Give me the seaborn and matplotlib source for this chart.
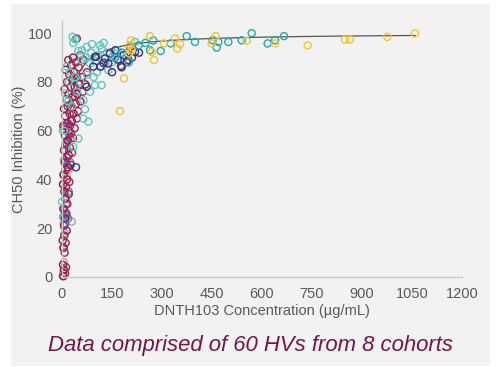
import numpy as np
import pandas as pd
import matplotlib
matplotlib.use("Agg")
import matplotlib.pyplot as plt
import seaborn as sns
from matplotlib.patches import Rectangle

# ---------------- data ----------------
gray_x = [2, 4, 6, 3, 8, 5, 10, 7, 12, 4, 15, 20, 6, 9, 24, 3, 29, 4]
gray_y = [0.5, 2, 6, 12, 18, 22, 25, 28, 33, 38, 41, 44, 48, 54, 57, 60, 22.7, 41.8]

blue_x = [10, 14, 8, 18, 12, 20, 16, 25, 14, 22, 9, 28, 4, 19, 9]
blue_y = [22, 25, 27, 24, 30, 35, 46, 47, 54, 58, 62, 64, 24.7, 63, 48]

maroon_x = [4, 6, 3, 5, 2, 14, 9, 4, 10, 7, 3, 5, 18, 8, 20, 6, 17, 9, 21, 4, 29,
            10, 35, 6, 28, 55, 32, 46, 8, 38, 70, 30, 60, 36, 11, 28, 19, 33, 44]
maroon_y = [0.3, 3, 5, 12, 15, 19, 24, 28, 32, 35, 38, 42, 45, 47, 50, 52, 56, 58, 60, 62, 64,
            66, 67, 69, 70, 72, 74, 75, 77, 78, 79, 81, 82, 84, 85, 87, 89, 90, 97.8]
crimson_x = [9, 12, 8, 11, 7, 6, 13, 16, 20, 12, 15, 22, 11, 26, 14, 30, 24, 12, 33, 27,
             38, 15, 44, 23, 48, 17, 41, 13, 20, 62, 26, 52, 15, 44, 22, 75, 50, 42, 65, 55, 39, 24]
crimson_y = [1.5, 4, 10, 14, 17, 21, 26, 30, 34, 37, 40, 39, 44, 46, 49, 51, 53, 55, 57, 59,
             61, 63, 65, 67, 68, 70, 71, 73, 75, 76, 78, 79, 80, 82, 83, 84, 86, 88, 89, 91, 74, 62]

lteal_x = [32, 34, 40, 49, 60, 74, 90, 114, 119, 125, 59, 70, 84, 100, 114, 130, 99, 119, 84,
           64, 79, 69, 64, 49, 34, 9, 14, 20, 25, 40, 55, 45, 30, 75, 95, 105, 150, 166, 174,
           159, 139, 194, 219, 0, 6, 18, 135, 108, 88, 150]
lteal_y = [98.5, 96, 97.5, 92.7, 93, 94.4, 95.5, 95, 93.7, 96, 89, 90, 87.6, 88.5, 86.3, 88,
           78.7, 78.7, 76, 72.5, 63.7, 68.8, 65, 56.8, 53.4, 75.3, 86.3, 80, 84, 82, 80, 76, 70,
           83, 82, 84, 90, 93, 89, 91.7, 84.8, 91.7, 96.4, 30.9, 60, 72, 92, 91, 92, 88]

purple_x = [42, 74, 99, 124, 129, 144, 179, 199, 204, 219, 231, 194, 177, 167, 139, 102, 116,
            94, 150, 210, 185, 160]
purple_y = [45, 78, 90.3, 87.8, 89.6, 91.7, 86, 89, 94.4, 92.3, 92, 88.2, 86.6, 89.2, 87.6,
            90.3, 86.3, 86.3, 84, 90, 91, 93]

dteal_x = [264, 274, 296, 326, 374, 399, 452, 469, 464, 499, 539, 569, 617, 639, 666,
           210, 230, 180, 250, 160, 200]
dteal_y = [93, 97, 92.7, 95.8, 98.8, 96.4, 97.1, 96.4, 94.1, 96.4, 97.1, 100, 95.8, 97.1,
           98.8, 93, 95, 92, 96, 90, 88]

yellow_x = [174, 186, 202, 204, 209, 207, 264, 269, 276, 306, 339, 346, 354, 449, 461, 554,
            639, 737, 849, 864, 976, 1059]
yellow_y = [68, 81.5, 91.7, 95, 93, 97, 98.8, 92.3, 89, 95.8, 97.8, 93.7, 95.5, 95.8, 98.8,
            96.9, 95.8, 95, 97.4, 97.4, 98.5, 99.9]

cohorts = ["C1", "C2", "C3", "C4", "C5", "C6", "C7", "C8"]
cohort_x = [gray_x, blue_x, maroon_x, crimson_x, lteal_x, purple_x, dteal_x, yellow_x]
cohort_y = [gray_y, blue_y, maroon_y, crimson_y, lteal_y, purple_y, dteal_y, yellow_y]
colors = ["#a6a6a6", "#4f86c6", "#861d45", "#b0204f", "#5fc6c1", "#3f2f7e", "#24a6ae", "#f2c431"]

# Emax fit parameters of the drawn curve
fit_emax = 100.0
fit_ec50 = 10.0
fit_xmax = 1060

x_ticks = [0, 150, 300, 450, 600, 750, 900, 1050, 1200]
y_ticks = [0, 20, 40, 60, 80, 100]

# ---------------- build ----------------
rows = []
for c, xs, ys in zip(cohorts, cohort_x, cohort_y):
    for a, b in zip(xs, ys):
        rows.append((c, a, b))
df = pd.DataFrame(rows, columns=["cohort", "conc", "inh"])

sns.set_theme(style="white")
plt.rcParams["font.family"] = ["Liberation Sans", "DejaVu Sans"]

fig = plt.figure(figsize=(4.96, 3.67), dpi=100)
fig.patch.set_facecolor("white")
bg = Rectangle((11 / 496, 1 - 366 / 367), 479 / 496, 362 / 367,
               transform=fig.transFigure, facecolor="#f2f2f2",
               edgecolor="none", zorder=-10)
fig.add_artist(bg)

ax = fig.add_axes([62 / 496, 1 - 277 / 367, 400 / 496, 256 / 367])
ax.set_zorder(5)
ax.set_facecolor("none")

xc = np.linspace(0, fit_xmax, 600)
yc = fit_emax * xc / (fit_ec50 + xc)
ax.plot(xc, yc, color="#555555", lw=0.9, zorder=1)

sns.scatterplot(data=df, x="conc", y="inh", hue="cohort", palette=dict(zip(cohorts, colors)),
                s=26, marker="o", linewidth=1.0, legend=False, ax=ax, zorder=2)
coll = ax.collections[0]
fcs = coll.get_facecolors()
coll.set_edgecolors(fcs)
coll.set_facecolors("none")
coll.set_clip_on(False)

ax.set_xlim(0, 1200)
ax.set_ylim(0, 105)
ax.set_xticks(x_ticks)
ax.set_yticks(y_ticks)
ax.tick_params(axis="both", length=0, labelsize=10.5, labelcolor="#595959", pad=7)
for s in ["top", "right"]:
    ax.spines[s].set_visible(False)
for s in ["left", "bottom"]:
    ax.spines[s].set_color("#c8c8c8")
    ax.spines[s].set_linewidth(1)
ax.set_xlabel("DNTH103 Concentration (µg/mL)", fontsize=10.5, color="#595959", labelpad=2)
ax.set_ylabel("CH50 Inhibition (%)", fontsize=10.5, color="#595959", labelpad=1)

fig.text(250 / 496, 1 - 346 / 367, "Data comprised of 60 HVs from 8 cohorts",
         ha="center", va="center", fontsize=15.9, style="italic", color="#7a1541")

fig.savefig("out.png", dpi=100, facecolor="white")
